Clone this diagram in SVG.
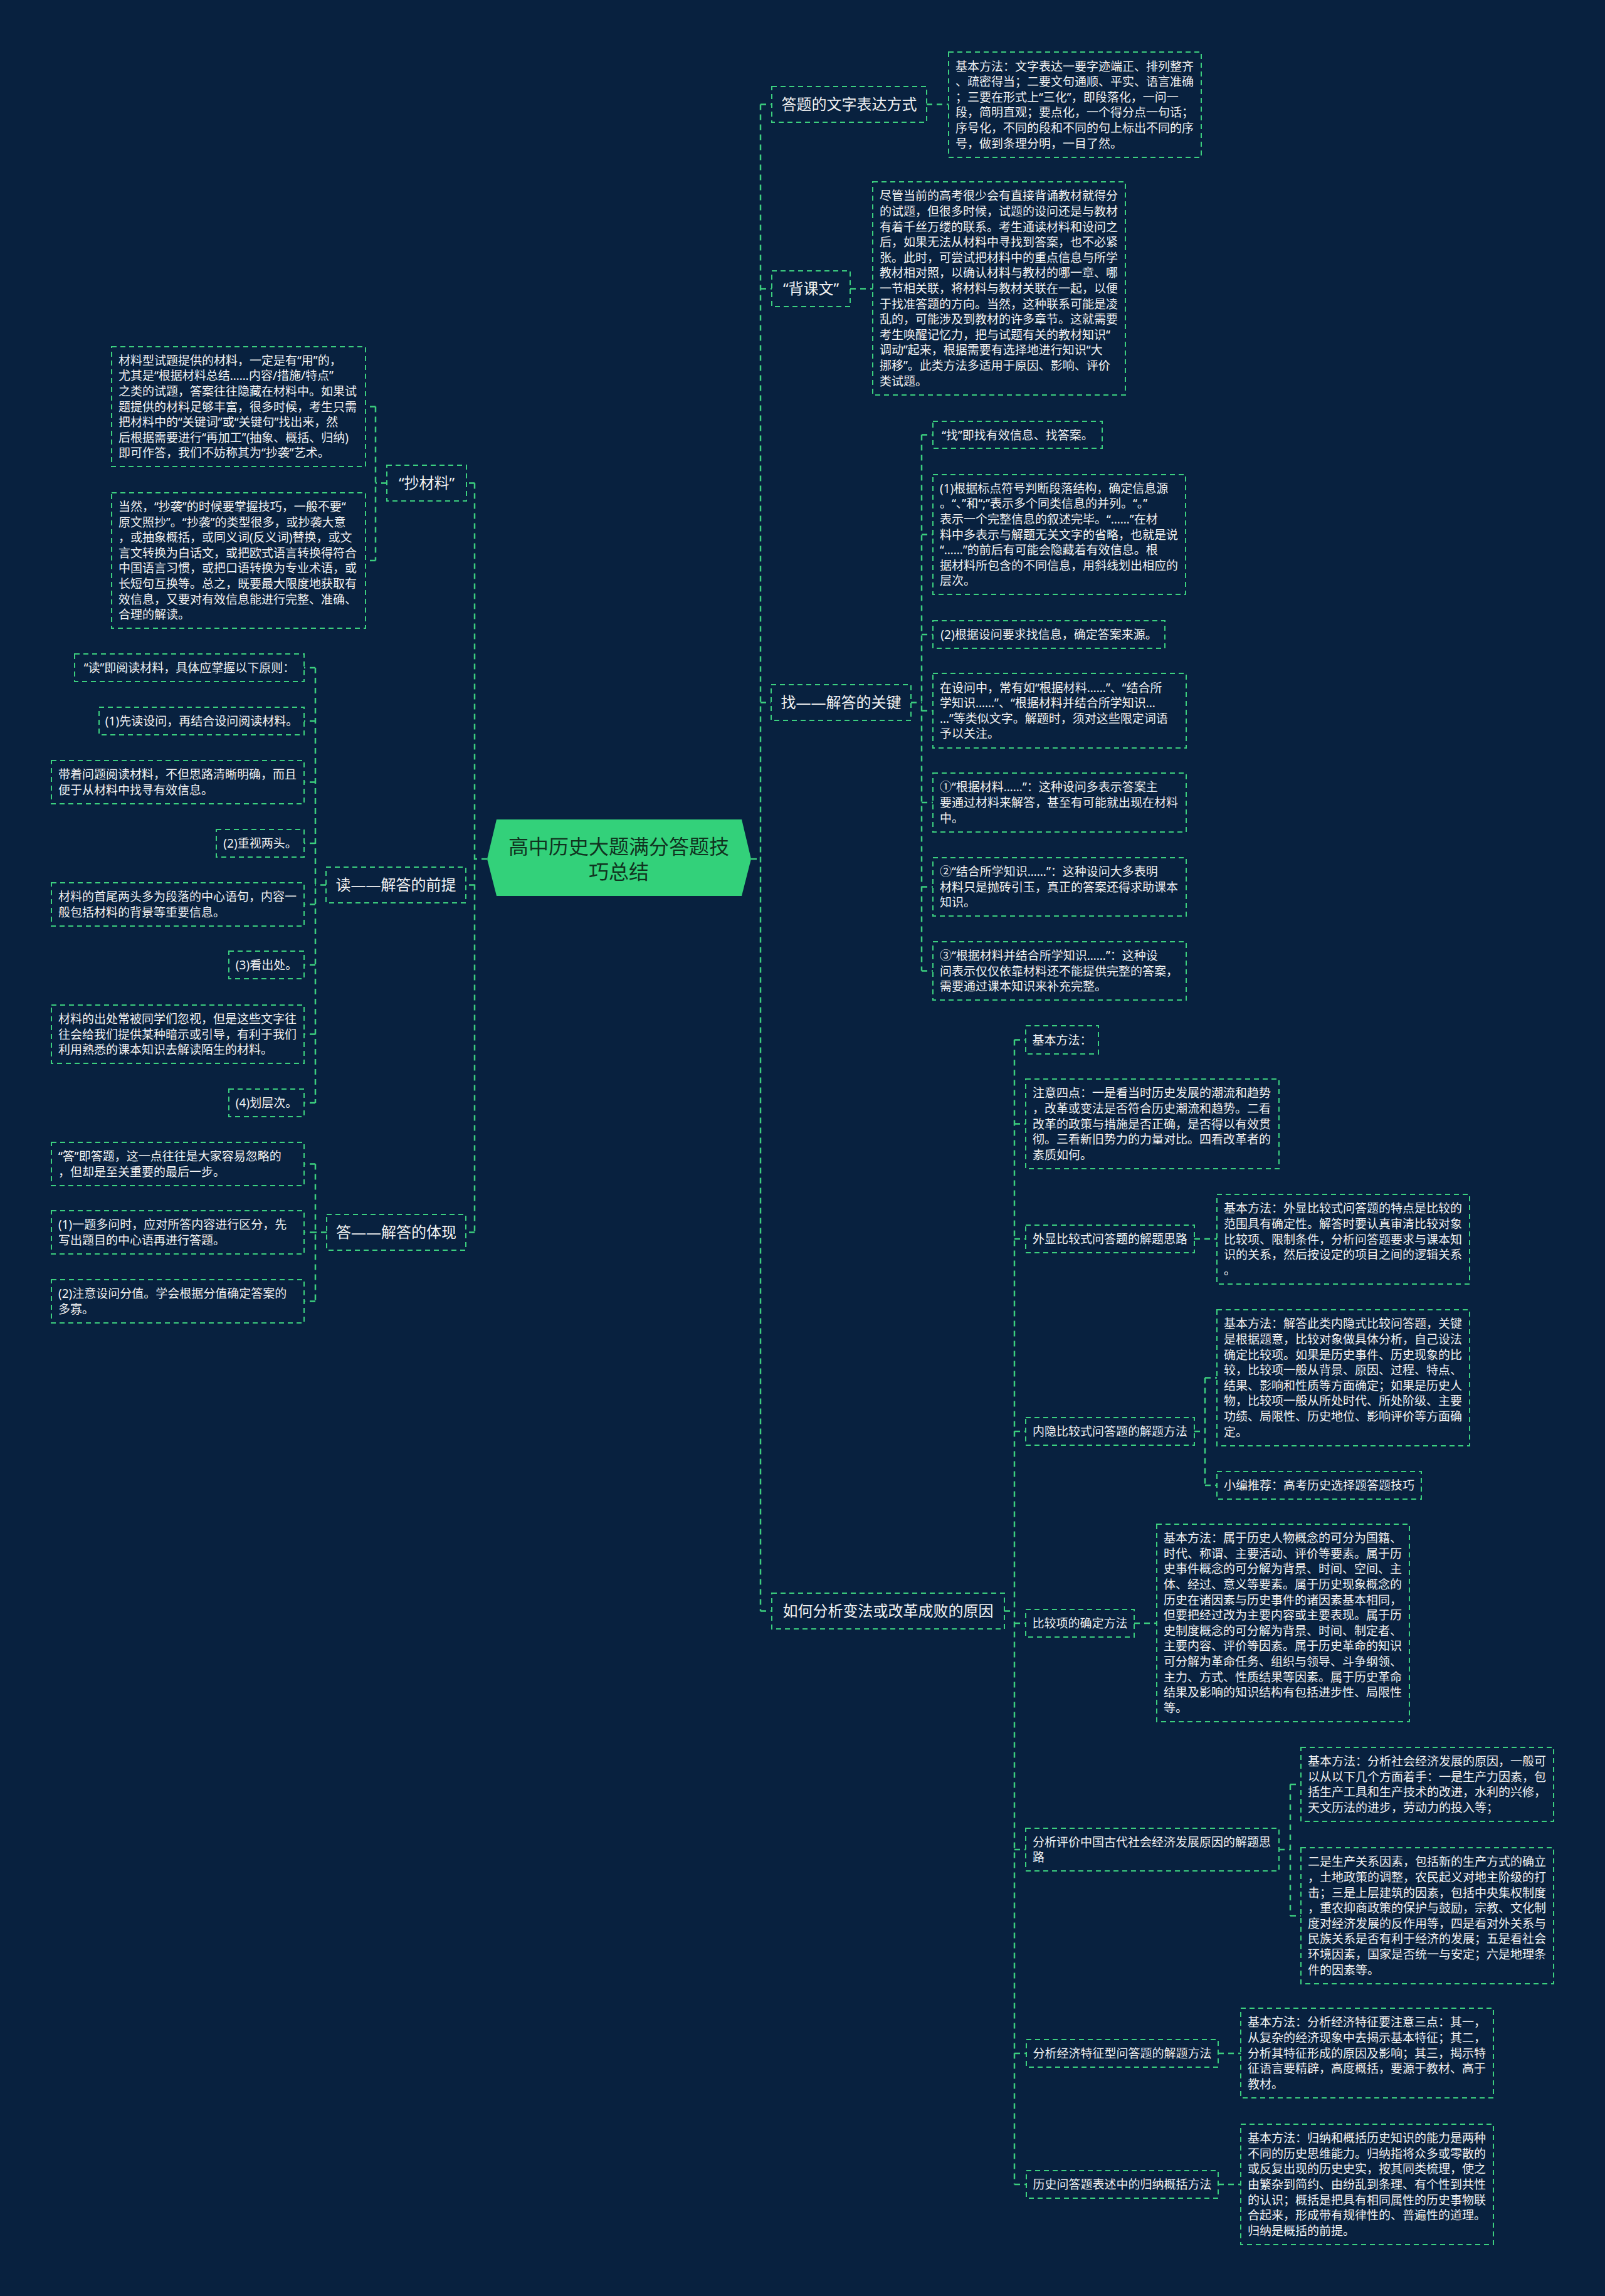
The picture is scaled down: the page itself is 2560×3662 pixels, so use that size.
<svg xmlns="http://www.w3.org/2000/svg" width="2560" height="3662" viewBox="0 0 2560 3662">
<style>
.bg{fill:#08213f}
.b{fill:none;stroke:#3ccf7f;stroke-width:2;stroke-dasharray:8 6}
.l{fill:none;stroke:#3ccf7f;stroke-width:2.5;stroke-dasharray:9 7}
text{font-family:"Noto Sans","Noto Sans CJK SC",sans-serif;fill:#f2f2f2}
.t{font-size:19px}
.n{font-size:24px}
.m{text-anchor:middle}
.c{font-size:32px;fill:#10331f;text-anchor:middle}
</style>
<rect class="bg" x="0" y="0" width="2560" height="3662"/>

<g id="connectors">
<path class="l" d="M1198,1370 H1213 M1213,166.5 V2569.5 M1213,166.5 H1231 M1213,460.5 H1231 M1213,1120.5 H1230 M1213,2569.5 H1231"/>
<path class="l" d="M1478,166.5 H1513 M1356,460.5 H1392"/>
<path class="l" d="M1453,1120.5 H1470 M1470,693.5 V1548.5 M1470,693.5 H1488 M1470,852.5 H1488 M1470,1012 H1488 M1470,1133.5 H1488 M1470,1280 H1488 M1470,1414.5 H1488 M1470,1548.5 H1488"/>
<path class="l" d="M1602,2569.5 H1618 M1618,1658.5 V3484 M1618,1658.5 H1636 M1618,1792.5 H1636 M1618,1976 H1636 M1618,2283 H1636 M1618,2589 H1636 M1618,2950 H1636 M1618,3275 H1637 M1618,3484 H1637"/>
<path class="l" d="M1905,1976 H1941 M1905,2283 H1922 M1922,2197.5 V2369 M1922,2197.5 H1941 M1922,2369 H1941 M1809,2589 H1845"/>
<path class="l" d="M2040,2950 H2058 M2058,2846 V3055.5 M2058,2846 H2075 M2058,3055.5 H2075 M1943,3275 H1979 M1943,3484 H1979"/>
<path class="l" d="M777,1370 H757 M757,770.5 V1965.5 M757,770.5 H744 M757,1411.5 H743 M757,1965.5 H743"/>
<path class="l" d="M617,770.5 H599 M599,648.5 V894 M599,648.5 H583 M599,894 H583"/>
<path class="l" d="M520,1411.5 H503 M503,1065 V1759 M503,1065 H485 M503,1150 H485 M503,1247.5 H485 M503,1345 H485 M503,1442.5 H485 M503,1539 H485 M503,1649.5 H485 M503,1759 H485"/>
<path class="l" d="M521,1965.5 H503 M503,1856.5 V2075.5 M503,1856.5 H485 M503,1965.5 H485 M503,2075.5 H485"/>
</g>

<g id="root">
<polygon points="777,1370 792,1307 1183,1307 1198,1370 1183,1429 792,1429" fill="#33d17a"/>
<text class="c" x="987" y="1361.5">高中历史大题满分答题技</text>
<text class="c" x="987" y="1401.5">巧总结</text>
</g>

<g id="r1">
<rect class="b" x="1231" y="138" width="247" height="57"/>
<text class="n m" x="1354.5" y="175">答题的文字表达方式</text>
</g>
<g id="r1t">
<rect class="b" x="1513" y="83" width="403" height="168"/>
<text class="t" x="1524" y="112.5"><tspan x="1524">基本方法：文字表达一要字迹端正、排列整齐</tspan><tspan x="1524" dy="24.6">、疏密得当；二要文句通顺、平实、语言准确</tspan><tspan x="1524" dy="24.6">；三要在形式上“三化”，即段落化，一问一</tspan><tspan x="1524" dy="24.6">段，简明直观；要点化，一个得分点一句话；</tspan><tspan x="1524" dy="24.6">序号化，不同的段和不同的句上标出不同的序</tspan><tspan x="1524" dy="24.6">号，做到条理分明，一目了然。</tspan></text>
</g>

<g id="r2">
<rect class="b" x="1231" y="432" width="125" height="57"/>
<text class="n m" x="1293.5" y="469">“背课文”</text>
</g>
<g id="r2t">
<rect class="b" x="1392" y="290" width="403" height="340"/>
<text class="t" x="1403" y="319.4"><tspan x="1403">尽管当前的高考很少会有直接背诵教材就得分</tspan><tspan x="1403" dy="24.6">的试题，但很多时候，试题的设问还是与教材</tspan><tspan x="1403" dy="24.6">有着千丝万缕的联系。考生通读材料和设问之</tspan><tspan x="1403" dy="24.6">后，如果无法从材料中寻找到答案，也不必紧</tspan><tspan x="1403" dy="24.6">张。此时，可尝试把材料中的重点信息与所学</tspan><tspan x="1403" dy="24.6">教材相对照，以确认材料与教材的哪一章、哪</tspan><tspan x="1403" dy="24.6">一节相关联，将材料与教材关联在一起，以便</tspan><tspan x="1403" dy="24.6">于找准答题的方向。当然，这种联系可能是凌</tspan><tspan x="1403" dy="24.6">乱的，可能涉及到教材的许多章节。这就需要</tspan><tspan x="1403" dy="24.6">考生唤醒记忆力，把与试题有关的教材知识“</tspan><tspan x="1403" dy="24.6">调动”起来，根据需要有选择地进行知识“大</tspan><tspan x="1403" dy="24.6">挪移”。此类方法多适用于原因、影响、评价</tspan><tspan x="1403" dy="24.6">类试题。</tspan></text>
</g>

<g id="r3">
<rect class="b" x="1230" y="1092" width="223" height="57"/>
<text class="n m" x="1341.5" y="1129">找——解答的关键</text>
</g>
<g id="r3a">
<rect class="b" x="1488" y="672" width="270" height="43"/>
<text class="t m" x="1623" y="700.5">“找”即找有效信息、找答案。</text>
</g>
<g id="r3b">
<rect class="b" x="1488" y="757" width="403" height="191"/>
<text class="t" x="1499" y="785.7"><tspan x="1499">(1)根据标点符号判断段落结构，确定信息源</tspan><tspan x="1499" dy="24.6">。“、”和“;”表示多个同类信息的并列。“。”</tspan><tspan x="1499" dy="24.6">表示一个完整信息的叙述完毕。“……”在材</tspan><tspan x="1499" dy="24.6">料中多表示与解题无关文字的省略，也就是说</tspan><tspan x="1499" dy="24.6">“……”的前后有可能会隐藏着有效信息。根</tspan><tspan x="1499" dy="24.6">据材料所包含的不同信息，用斜线划出相应的</tspan><tspan x="1499" dy="24.6">层次。</tspan></text>
</g>
<g id="r3c">
<rect class="b" x="1488" y="990" width="370" height="44"/>
<text class="t m" x="1673" y="1019">(2)根据设问要求找信息，确定答案来源。</text>
</g>
<g id="r3d">
<rect class="b" x="1488" y="1074" width="404" height="119"/>
<text class="t" x="1499" y="1103.6"><tspan x="1499">在设问中，常有如“根据材料……”、“结合所</tspan><tspan x="1499" dy="24.6">学知识……”、“根据材料并结合所学知识…</tspan><tspan x="1499" dy="24.6">…”等类似文字。解题时，须对这些限定词语</tspan><tspan x="1499" dy="24.6">予以关注。</tspan></text>
</g>
<g id="r3e">
<rect class="b" x="1488" y="1233" width="404" height="94"/>
<text class="t" x="1499" y="1262.4"><tspan x="1499">①“根据材料……”：这种设问多表示答案主</tspan><tspan x="1499" dy="24.6">要通过材料来解答，甚至有可能就出现在材料</tspan><tspan x="1499" dy="24.6">中。</tspan></text>
</g>
<g id="r3f">
<rect class="b" x="1488" y="1368" width="404" height="93"/>
<text class="t" x="1499" y="1396.9"><tspan x="1499">②“结合所学知识……”：这种设问大多表明</tspan><tspan x="1499" dy="24.6">材料只是抛砖引玉，真正的答案还得求助课本</tspan><tspan x="1499" dy="24.6">知识。</tspan></text>
</g>
<g id="r3g">
<rect class="b" x="1488" y="1502" width="404" height="93"/>
<text class="t" x="1499" y="1530.9"><tspan x="1499">③“根据材料并结合所学知识……”：这种设</tspan><tspan x="1499" dy="24.6">问表示仅仅依靠材料还不能提供完整的答案，</tspan><tspan x="1499" dy="24.6">需要通过课本知识来补充完整。</tspan></text>
</g>

<g id="r4">
<rect class="b" x="1231" y="2541" width="371" height="57"/>
<text class="n m" x="1416.5" y="2578">如何分析变法或改革成败的原因</text>
</g>
<g id="r4a">
<rect class="b" x="1636" y="1636" width="116" height="45"/>
<text class="t m" x="1694" y="1665.5">基本方法：</text>
</g>
<g id="r4b">
<rect class="b" x="1636" y="1721" width="404" height="143"/>
<text class="t" x="1647" y="1750.3"><tspan x="1647">注意四点：一是看当时历史发展的潮流和趋势</tspan><tspan x="1647" dy="24.6">，改革或变法是否符合历史潮流和趋势。二看</tspan><tspan x="1647" dy="24.6">改革的政策与措施是否正确，是否得以有效贯</tspan><tspan x="1647" dy="24.6">彻。三看新旧势力的力量对比。四看改革者的</tspan><tspan x="1647" dy="24.6">素质如何。</tspan></text>
</g>
<g id="r4c">
<rect class="b" x="1636" y="1954" width="269" height="44"/>
<text class="t m" x="1770.5" y="1983">外显比较式问答题的解题思路</text>
</g>
<g id="r4ct">
<rect class="b" x="1941" y="1905" width="403" height="143"/>
<text class="t" x="1952" y="1934.3"><tspan x="1952">基本方法：外显比较式问答题的特点是比较的</tspan><tspan x="1952" dy="24.6">范围具有确定性。解答时要认真审清比较对象</tspan><tspan x="1952" dy="24.6">比较项、限制条件，分析问答题要求与课本知</tspan><tspan x="1952" dy="24.6">识的关系，然后按设定的项目之间的逻辑关系</tspan><tspan x="1952" dy="24.6">。</tspan></text>
</g>
<g id="r4d">
<rect class="b" x="1636" y="2261" width="269" height="44"/>
<text class="t m" x="1770.5" y="2290">内隐比较式问答题的解题方法</text>
</g>
<g id="r4dt">
<rect class="b" x="1941" y="2089" width="403" height="217"/>
<text class="t" x="1952" y="2118.4"><tspan x="1952">基本方法：解答此类内隐式比较问答题，关键</tspan><tspan x="1952" dy="24.6">是根据题意，比较对象做具体分析，自己设法</tspan><tspan x="1952" dy="24.6">确定比较项。如果是历史事件、历史现象的比</tspan><tspan x="1952" dy="24.6">较，比较项一般从背景、原因、过程、特点、</tspan><tspan x="1952" dy="24.6">结果、影响和性质等方面确定；如果是历史人</tspan><tspan x="1952" dy="24.6">物，比较项一般从所处时代、所处阶级、主要</tspan><tspan x="1952" dy="24.6">功绩、局限性、历史地位、影响评价等方面确</tspan><tspan x="1952" dy="24.6">定。</tspan></text>
</g>
<g id="r4db">
<rect class="b" x="1941" y="2347" width="326" height="44"/>
<text class="t m" x="2104" y="2376">小编推荐：高考历史选择题答题技巧</text>
</g>
<g id="r4e">
<rect class="b" x="1636" y="2567" width="173" height="44"/>
<text class="t m" x="1722.5" y="2596">比较项的确定方法</text>
</g>
<g id="r4et">
<rect class="b" x="1845" y="2431" width="403" height="315"/>
<text class="t" x="1856" y="2460.2"><tspan x="1856">基本方法：属于历史人物概念的可分为国籍、</tspan><tspan x="1856" dy="24.6">时代、称谓、主要活动、评价等要素。属于历</tspan><tspan x="1856" dy="24.6">史事件概念的可分解为背景、时间、空间、主</tspan><tspan x="1856" dy="24.6">体、经过、意义等要素。属于历史现象概念的</tspan><tspan x="1856" dy="24.6">历史在诸因素与历史事件的诸因素基本相同，</tspan><tspan x="1856" dy="24.6">但要把经过改为主要内容或主要表现。属于历</tspan><tspan x="1856" dy="24.6">史制度概念的可分解为背景、时间、制定者、</tspan><tspan x="1856" dy="24.6">主要内容、评价等因素。属于历史革命的知识</tspan><tspan x="1856" dy="24.6">可分解为革命任务、组织与领导、斗争纲领、</tspan><tspan x="1856" dy="24.6">主力、方式、性质结果等因素。属于历史革命</tspan><tspan x="1856" dy="24.6">结果及影响的知识结构有包括进步性、局限性</tspan><tspan x="1856" dy="24.6">等。</tspan></text>
</g>
<g id="r4f">
<rect class="b" x="1636" y="2916" width="404" height="68"/>
<text class="t" x="1647" y="2944.7"><tspan x="1647">分析评价中国古代社会经济发展原因的解题思</tspan><tspan x="1647" dy="24.6">路</tspan></text>
</g>
<g id="r4fa">
<rect class="b" x="2075" y="2787" width="403" height="118"/>
<text class="t" x="2086" y="2816.1"><tspan x="2086">基本方法：分析社会经济发展的原因，一般可</tspan><tspan x="2086" dy="24.6">以从以下几个方面着手：一是生产力因素，包</tspan><tspan x="2086" dy="24.6">括生产工具和生产技术的改进，水利的兴修，</tspan><tspan x="2086" dy="24.6">天文历法的进步，劳动力的投入等；</tspan></text>
</g>
<g id="r4fb">
<rect class="b" x="2075" y="2947" width="403" height="217"/>
<text class="t" x="2086" y="2976.4"><tspan x="2086">二是生产关系因素，包括新的生产方式的确立</tspan><tspan x="2086" dy="24.6">，土地政策的调整，农民起义对地主阶级的打</tspan><tspan x="2086" dy="24.6">击；三是上层建筑的因素，包括中央集权制度</tspan><tspan x="2086" dy="24.6">，重农抑商政策的保护与鼓励，宗教、文化制</tspan><tspan x="2086" dy="24.6">度对经济发展的反作用等，四是看对外关系与</tspan><tspan x="2086" dy="24.6">民族关系是否有利于经济的发展；五是看社会</tspan><tspan x="2086" dy="24.6">环境因素，国家是否统一与安定；六是地理条</tspan><tspan x="2086" dy="24.6">件的因素等。</tspan></text>
</g>
<g id="r4g">
<rect class="b" x="1637" y="3253" width="306" height="44"/>
<text class="t m" x="1790" y="3282">分析经济特征型问答题的解题方法</text>
</g>
<g id="r4gt">
<rect class="b" x="1979" y="3203" width="403" height="143"/>
<text class="t" x="1990" y="3232.3"><tspan x="1990">基本方法：分析经济特征要注意三点：其一，</tspan><tspan x="1990" dy="24.6">从复杂的经济现象中去揭示基本特征；其二，</tspan><tspan x="1990" dy="24.6">分析其特征形成的原因及影响；其三，揭示特</tspan><tspan x="1990" dy="24.6">征语言要精辟，高度概括，要源于教材、高于</tspan><tspan x="1990" dy="24.6">教材。</tspan></text>
</g>
<g id="r4h">
<rect class="b" x="1637" y="3462" width="306" height="44"/>
<text class="t m" x="1790" y="3491">历史问答题表述中的归纳概括方法</text>
</g>
<g id="r4ht">
<rect class="b" x="1979" y="3388" width="403" height="192"/>
<text class="t" x="1990" y="3417.2"><tspan x="1990">基本方法：归纳和概括历史知识的能力是两种</tspan><tspan x="1990" dy="24.6">不同的历史思维能力。归纳指将众多或零散的</tspan><tspan x="1990" dy="24.6">或反复出现的历史史实，按其同类梳理，使之</tspan><tspan x="1990" dy="24.6">由繁杂到简约、由纷乱到条理、有个性到共性</tspan><tspan x="1990" dy="24.6">的认识；概括是把具有相同属性的历史事物联</tspan><tspan x="1990" dy="24.6">合起来，形成带有规律性的、普遍性的道理。</tspan><tspan x="1990" dy="24.6">归纳是概括的前提。</tspan></text>
</g>

<g id="l1">
<rect class="b" x="617" y="742" width="127" height="57"/>
<text class="n m" x="680.5" y="779">“抄材料”</text>
</g>
<g id="l1a">
<rect class="b" x="178" y="553" width="405" height="191"/>
<text class="t" x="189" y="581.7"><tspan x="189">材料型试题提供的材料，一定是有“用”的，</tspan><tspan x="189" dy="24.6">尤其是“根据材料总结……内容/措施/特点”</tspan><tspan x="189" dy="24.6">之类的试题，答案往往隐藏在材料中。如果试</tspan><tspan x="189" dy="24.6">题提供的材料足够丰富，很多时候，考生只需</tspan><tspan x="189" dy="24.6">把材料中的“关键词”或“关键句”找出来，然</tspan><tspan x="189" dy="24.6">后根据需要进行“再加工”(抽象、概括、归纳)</tspan><tspan x="189" dy="24.6">即可作答，我们不妨称其为“抄袭”艺术。</tspan></text>
</g>
<g id="l1b">
<rect class="b" x="178" y="786" width="405" height="216"/>
<text class="t" x="189" y="814.9"><tspan x="189">当然，“抄袭”的时候要掌握技巧，一般不要“</tspan><tspan x="189" dy="24.6">原文照抄”。“抄袭”的类型很多，或抄袭大意</tspan><tspan x="189" dy="24.6">，或抽象概括，或同义词(反义词)替换，或文</tspan><tspan x="189" dy="24.6">言文转换为白话文，或把欧式语言转换得符合</tspan><tspan x="189" dy="24.6">中国语言习惯，或把口语转换为专业术语，或</tspan><tspan x="189" dy="24.6">长短句互换等。总之，既要最大限度地获取有</tspan><tspan x="189" dy="24.6">效信息，又要对有效信息能进行完整、准确、</tspan><tspan x="189" dy="24.6">合理的解读。</tspan></text>
</g>

<g id="l2">
<rect class="b" x="520" y="1383" width="223" height="57"/>
<text class="n m" x="631.5" y="1420">读——解答的前提</text>
</g>
<g id="l2a">
<rect class="b" x="119" y="1043" width="366" height="44"/>
<text class="t m" x="302" y="1072">“读”即阅读材料，具体应掌握以下原则：</text>
</g>
<g id="l2b">
<rect class="b" x="158" y="1128" width="327" height="44"/>
<text class="t m" x="321.5" y="1157">(1)先读设问，再结合设问阅读材料。</text>
</g>
<g id="l2c">
<rect class="b" x="82" y="1213" width="403" height="69"/>
<text class="t" x="93" y="1242.2"><tspan x="93">带着问题阅读材料，不但思路清晰明确，而且</tspan><tspan x="93" dy="24.6">便于从材料中找寻有效信息。</tspan></text>
</g>
<g id="l2d">
<rect class="b" x="345" y="1323" width="140" height="44"/>
<text class="t m" x="415" y="1352">(2)重视两头。</text>
</g>
<g id="l2e">
<rect class="b" x="82" y="1408" width="403" height="69"/>
<text class="t" x="93" y="1437.2"><tspan x="93">材料的首尾两头多为段落的中心语句，内容一</tspan><tspan x="93" dy="24.6">般包括材料的背景等重要信息。</tspan></text>
</g>
<g id="l2f">
<rect class="b" x="365" y="1517" width="120" height="44"/>
<text class="t m" x="425" y="1546">(3)看出处。</text>
</g>
<g id="l2g">
<rect class="b" x="82" y="1603" width="403" height="93"/>
<text class="t" x="93" y="1631.9"><tspan x="93">材料的出处常被同学们忽视，但是这些文字往</tspan><tspan x="93" dy="24.6">往会给我们提供某种暗示或引导，有利于我们</tspan><tspan x="93" dy="24.6">利用熟悉的课本知识去解读陌生的材料。</tspan></text>
</g>
<g id="l2h">
<rect class="b" x="365" y="1737" width="120" height="44"/>
<text class="t m" x="425" y="1766">(4)划层次。</text>
</g>

<g id="l3">
<rect class="b" x="521" y="1937" width="222" height="57"/>
<text class="n m" x="632" y="1974">答——解答的体现</text>
</g>
<g id="l3a">
<rect class="b" x="82" y="1822" width="403" height="69"/>
<text class="t" x="93" y="1851.2"><tspan x="93">“答”即答题，这一点往往是大家容易忽略的</tspan><tspan x="93" dy="24.6">，但却是至关重要的最后一步。</tspan></text>
</g>
<g id="l3b">
<rect class="b" x="82" y="1931" width="403" height="69"/>
<text class="t" x="93" y="1960.2"><tspan x="93">(1)一题多问时，应对所答内容进行区分，先</tspan><tspan x="93" dy="24.6">写出题目的中心语再进行答题。</tspan></text>
</g>
<g id="l3c">
<rect class="b" x="82" y="2041" width="403" height="69"/>
<text class="t" x="93" y="2070.2"><tspan x="93">(2)注意设问分值。学会根据分值确定答案的</tspan><tspan x="93" dy="24.6">多寡。</tspan></text>
</g>
</svg>
